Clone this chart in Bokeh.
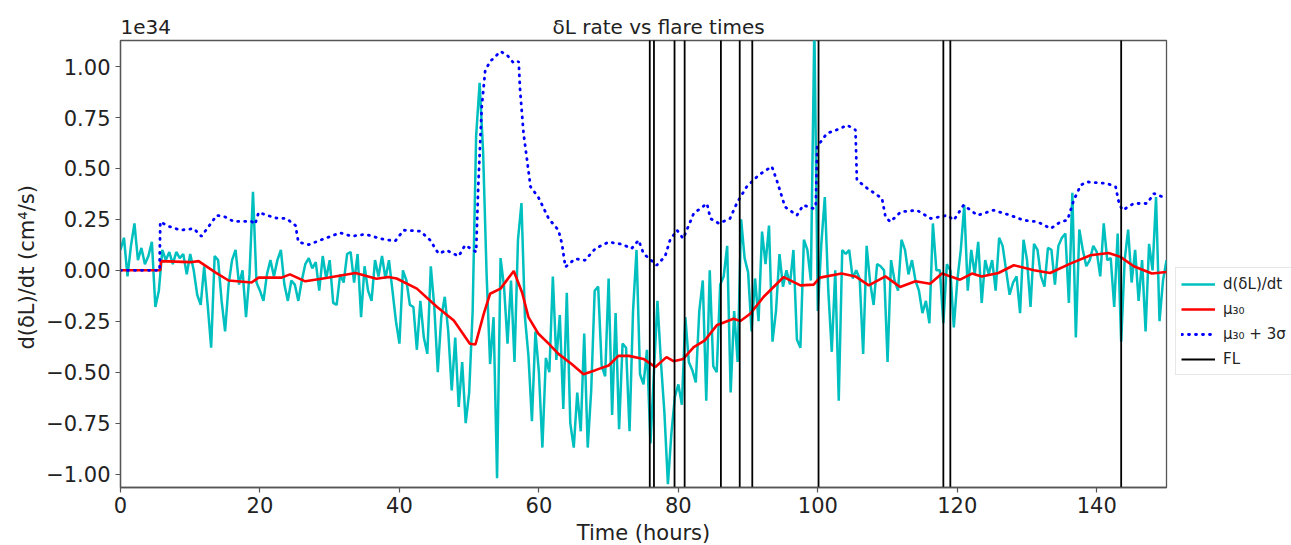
from bokeh.plotting import figure
from bokeh.models import FixedTicker, Legend, LegendItem, Range1d
from bokeh.embed import file_html
from bokeh.resources import INLINE

# ---------------- data (values in units of 1e34 cm^4/s) ----------------
T_STEP = 0.5  # hours between samples of the rate series
rate = [
    0.10, 0.16, -0.03, 0.12, 0.23, 0.05, 0.11, 0.03, 0.07, 0.14,
    -0.18, -0.10, 0.10, 0.05, 0.09, 0.03, 0.09, 0.06, 0.08, -0.02,
    0.08, 0.0, -0.12, -0.17, 0.02, -0.17, -0.38, 0.07, 0.05, -0.15,
    -0.30, -0.07, 0.05, 0.10, -0.07, 0.0, -0.23, -0.02, 0.385, -0.06,
    -0.10, -0.15, -0.02, 0.05, -0.03, 0.05, 0.10, -0.07, -0.15, -0.05,
    -0.07, -0.15, -0.05, 0.03, 0.06, 0.01, 0.04, -0.10, 0.07, -0.04,
    0.05, -0.16, -0.17, -0.02, -0.06, 0.08, 0.09, -0.06, 0.08, -0.23,
    0.02, -0.10, -0.15, 0.05, -0.03, 0.07, -0.04, 0.05, -0.10, -0.25,
    -0.36, 0.0, -0.05, -0.17, -0.18, -0.39, -0.15, -0.33, -0.41, 0.02,
    -0.18, -0.50, -0.23, -0.13, -0.30, -0.59, -0.33, -0.67, -0.45, -0.75,
    -0.60, -0.20, 0.66, 0.92, 0.58, -0.02, -0.46, -0.23, -1.02, 0.06,
    -0.08, -0.36, -0.05, -0.45, 0.15, 0.33, -0.23, -0.42, -0.74, -0.30,
    -0.50, -0.87, -0.43, -0.50, -0.03, -0.44, -0.22, -0.68, -0.11, -0.75,
    -0.87, -0.60, -0.79, -0.31, -0.87, -0.59, -0.10, -0.08, -0.47, -0.52,
    -0.04, -0.71, -0.21, -0.78, -0.36, -0.38, -0.79, -0.20, 0.10, -0.51,
    -0.56, -0.39, -0.85, -0.50, -0.15, -0.45, -0.70, -1.05, -0.80, -0.62,
    -0.56, -0.66, -0.23, -0.45, -0.49, -0.55, -0.20, -0.05, -0.64, 0.0,
    -0.47, -0.50, -0.07, -0.03, 0.12, -0.60, -0.20, -0.45, 0.25, 0.06,
    -0.01, -0.30, -0.04, -0.25, 0.19, 0.03, 0.22, -0.35, -0.20, 0.08,
    -0.08, 0.0, -0.07, 0.10, -0.34, -0.38, 0.15, 0.10, -0.05, 1.20,
    -0.20, 0.13, 0.36, -0.10, -0.40, 0.0, -0.64, 0.10, 0.08, 0.10,
    -0.04, 0.0, -0.04, -0.41, 0.12, -0.06, -0.17, 0.03, 0.02, 0.0,
    -0.45, 0.05, -0.05, -0.10, 0.15, 0.10, -0.02, 0.05, -0.05, -0.10,
    -0.21, -0.15, -0.26, 0.23, 0.0, 0.0, -0.26, 0.03, 0.0, -0.28,
    -0.05, 0.10, 0.32, -0.10, 0.10, -0.02, 0.14, -0.16, 0.05, -0.02,
    0.05, -0.10, 0.16, 0.12, 0.0, -0.12, -0.06, -0.03, -0.21, 0.15,
    0.05, -0.18, 0.13, 0.10, -0.03, -0.08, 0.11, 0.10, -0.07, 0.12,
    0.16, 0.18, -0.16, 0.38, -0.33, 0.20, 0.10, 0.02, 0.05, 0.12,
    0.09, -0.03, 0.23, 0.05, 0.06, -0.18, 0.18, -0.35, 0.05, 0.20,
    -0.06, 0.10, -0.15, 0.05, -0.30, 0.13, 0.0, 0.36, -0.25, -0.05,
    0.05,
]
rate_t = [i * T_STEP for i in range(len(rate))]

mu_t = [0, 5.7, 5.8, 10, 11.2, 13.6, 15.5, 18.8, 19.8, 23.1, 24.3, 26.5, 29.5,
        33.7, 36.7, 38.4, 39.6, 42.5, 45.4, 47.8, 50.1, 50.9, 52.1, 53.0, 54.5,
        56.4, 57.6, 58.5, 59.9, 61.4, 62.8, 64.7, 66.4, 68.1, 70.0, 71.4, 72.9,
        75.0, 76.7, 78.3, 79.3, 80.7, 82.2, 83.8, 85.5, 87.9, 88.9, 90.3, 92.2,
        95.1, 97.5, 99.4, 100.3, 103.4, 105.4, 107.3, 109.7, 111.8, 114.0,
        116.1, 117.8, 120.4, 122.1, 123.5, 125.9, 128.1, 131.0, 133.3, 136.2,
        139.1, 141.7, 143.4, 145.3, 147.9, 150]
mu_v = [0, 0, 0.045, 0.04, 0.045, -0.01, -0.05, -0.06, -0.036, -0.036, -0.02,
        -0.054, -0.038, -0.013, -0.041, -0.033, -0.04, -0.09, -0.18, -0.246,
        -0.36, -0.364, -0.213, -0.115, -0.09, -0.003, -0.11, -0.23, -0.31,
        -0.36, -0.41, -0.46, -0.51, -0.49, -0.467, -0.42, -0.42, -0.435,
        -0.475, -0.426, -0.446, -0.435, -0.377, -0.344, -0.27, -0.238, -0.249,
        -0.213, -0.131, -0.033, -0.074, -0.07, -0.036, -0.016, -0.03, -0.074,
        -0.03, -0.082, -0.054, -0.066, -0.016, -0.046, -0.016, -0.03, -0.013,
        0.025, 0.0, -0.013, 0.033, 0.074, 0.085, 0.066, 0.02, -0.016, -0.008]

thr_t = [0, 5.6, 5.7, 6.9, 8.6, 10.5, 11.6, 12.6, 13.8, 15.0, 16.2, 18.8, 19.3,
         19.8, 22.2, 23.8, 25.1, 25.5, 27.0, 28.9, 31.5, 33.2, 35.1, 37.7, 39.4,
         40.6, 43.0, 44.4, 45.6, 46.8, 48.5, 49.4, 50.1, 51.0, 51.3, 51.8, 52.3,
         53.0, 54.5, 55.4, 56.4, 57.1, 57.3, 57.8, 58.3, 58.8, 59.9, 61.4, 62.8,
         63.3, 63.8, 65.2, 66.6, 68.1, 70.0, 71.9, 73.3, 74.3, 75.0, 76.9, 78.1,
         78.8, 79.8, 80.7, 82.2, 84.1, 84.6, 85.8, 87.4, 88.4, 89.8, 91.5, 93.4,
         94.1, 95.3, 97.0, 97.9, 99.4, 99.7, 99.9, 101.3, 103.3, 104.2, 105.4,
         105.6, 107.1, 109.2, 109.7, 110.4, 111.9, 114.2, 116.2, 118.6, 119.5,
         120.9, 122.9, 125.2, 127.6, 129.5, 131.5, 133.4, 134.8, 135.8, 136.7,
         137.7, 138.6, 141.5, 142.7, 143.2, 143.7, 145.3, 147.2, 148.2, 150]
thr_v = [0, 0, 0.238, 0.216, 0.197, 0.205, 0.167, 0.213, 0.27, 0.262, 0.24,
         0.24, 0.226, 0.284, 0.257, 0.254, 0.22, 0.139, 0.126, 0.151, 0.184,
         0.167, 0.177, 0.152, 0.144, 0.197, 0.192, 0.148, 0.082, 0.098, 0.069,
         0.123, 0.11, 0.09, 0.41, 0.80, 0.98, 1.025, 1.074, 1.058, 1.017, 1.025,
         0.885, 0.672, 0.541, 0.41, 0.36, 0.254, 0.197, 0.131, 0.016, 0.057,
         0.049, 0.107, 0.139, 0.128, 0.107, 0.148, 0.082, 0.025, 0.069, 0.148,
         0.197, 0.156, 0.279, 0.328, 0.254, 0.23, 0.254, 0.331, 0.41, 0.467,
         0.51, 0.443, 0.311, 0.27, 0.32, 0.303, 0.311, 0.607, 0.672, 0.697,
         0.713, 0.689, 0.443, 0.402, 0.353, 0.262, 0.238, 0.287, 0.295, 0.254,
         0.27, 0.246, 0.32, 0.27, 0.295, 0.27, 0.246, 0.238, 0.205, 0.238,
         0.246, 0.344, 0.418, 0.434, 0.426, 0.41, 0.328, 0.295, 0.328, 0.328,
         0.377, 0.353]

flare_times = [75.9, 76.5, 79.45, 80.9, 86.1, 88.8, 90.6, 100.1, 118.0, 119.0, 143.5]

x_ticks = [0, 20, 40, 60, 80, 100, 120, 140]
y_ticks = [-1.0, -0.75, -0.5, -0.25, 0.0, 0.25, 0.5, 0.75, 1.0]
y_tick_labels = ["\u22121.00", "\u22120.75", "\u22120.50", "\u22120.25", "0.00",
                 "0.25", "0.50", "0.75", "1.00"]
offset_text = "1e34"
title_text = "\u03b4L rate vs flare times"

X_LO, X_HI = 0, 150
Y_LO, Y_HI = -1.066, 1.128

FONT = "DejaVu Sans"

p = figure(frame_width=1046, frame_height=447, output_backend="svg",
           toolbar_location=None,
           x_range=Range1d(X_LO, X_HI), y_range=Range1d(Y_LO, Y_HI),
           min_border_left=120, min_border_right=10, min_border_top=40,
           min_border_bottom=52,
           background_fill_color="white", border_fill_color="white")

# "1e34" offset text at the left and the title centred over the frame,
# sharing one title line (non-breaking spaces keep them apart)
p.title.text = offset_text + "\u00a0" * 60 + title_text
p.title.align = "left"
p.title.offset = 0
p.title.text_font = FONT
p.title.text_font_size = "20px"
p.title.text_font_style = "normal"
p.title.text_color = "#222222"
p.title.standoff = 3

p.xgrid.visible = False
p.ygrid.visible = False
p.outline_line_color = "#555555"
p.outline_line_width = 1.3

for ax in (p.xaxis[0], p.yaxis[0]):
    ax.axis_line_color = "#555555"
    ax.axis_line_width = 1.3
    ax.major_tick_line_color = "#555555"
    ax.major_tick_line_width = 1.2
    ax.major_tick_out = 5
    ax.major_tick_in = 0
    ax.minor_tick_line_color = None
    ax.major_label_text_font = FONT
    ax.major_label_text_font_size = "21px"
    ax.major_label_text_color = "#222222"
    ax.axis_label_text_font = FONT
    ax.axis_label_text_font_size = "21px"
    ax.axis_label_text_font_style = "normal"
    ax.axis_label_text_color = "#222222"

p.xaxis.ticker = FixedTicker(ticks=x_ticks)
p.yaxis.ticker = FixedTicker(ticks=y_ticks)
p.yaxis.major_label_overrides = {t: s for t, s in zip(y_ticks, y_tick_labels)}
p.xaxis.axis_label = "Time (hours)"
p.yaxis.axis_label = "d(\u03b4L)/dt  (cm\u2074/s)"
p.xaxis.major_label_standoff = 4
p.yaxis.major_label_standoff = 5
p.xaxis.axis_label_standoff = 5
p.yaxis.axis_label_standoff = 4

r_rate = p.line(rate_t, rate, line_color="#00BFBF", line_width=2.5)
r_mu = p.line(mu_t, mu_v, line_color="#FF0000", line_width=2.6)
r_thr = p.line(thr_t, thr_v, line_color="#0000FF", line_width=2.8,
               line_dash="1 6", line_cap="round")
r_fl = p.segment(x0=flare_times, y0=[Y_LO - 1] * len(flare_times),
                 x1=flare_times, y1=[Y_HI + 1] * len(flare_times),
                 line_color="black", line_width=1.8)

legend = Legend(items=[
    LegendItem(label="d(\u03b4L)/dt", renderers=[r_rate]),
    LegendItem(label="\u03bc\u2083\u2080", renderers=[r_mu]),
    LegendItem(label="\u03bc\u2083\u2080 + 3\u03c3", renderers=[r_thr]),
    LegendItem(label="FL", renderers=[r_fl]),
], location=(9, 112))
legend.label_text_font = FONT
legend.label_text_font_size = "15px"
legend.label_text_color = "#222222"
legend.glyph_width = 34
legend.glyph_height = 20
legend.label_height = 21
legend.label_standoff = 8
legend.spacing = 4
legend.padding = 5
legend.margin = 0
legend.border_line_color = "#d0d0d0"
legend.border_line_width = 1
legend.background_fill_color = "white"
p.add_layout(legend, "right")

open("out.html", "w").write(file_html(p, INLINE))
